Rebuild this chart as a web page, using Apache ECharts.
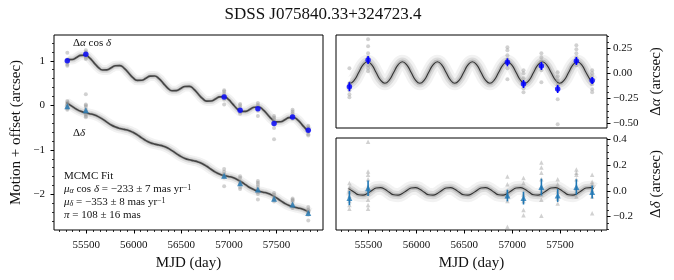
<!DOCTYPE html>
<html><head><meta charset="utf-8">
<script src="https://cdn.jsdelivr.net/npm/echarts@6/dist/echarts.min.js"></script>
<style>html,body{margin:0;padding:0;background:#fff}#c{width:674px;height:280px}</style>
</head><body><div id="c"></div>
<script>
// ---------------- data ----------------
const epochs = [55300, 55495, 56950, 57118, 57305, 57475, 57670, 57835];
const raMotion = [1.00, 1.15, 0.19, -0.11, -0.075, -0.41, -0.26, -0.56];
const decMotion = [-0.02, -0.11, -1.58, -1.75, -1.89, -2.10, -2.23, -2.42];
const raResid = [-0.134, 0.133, 0.11, -0.107, 0.073, -0.157, 0.123, -0.073];
const raErr = [0.045, 0.04, 0.04, 0.04, 0.04, 0.04, 0.04, 0.035];
const decResid = [-0.057, 0.02, -0.037, -0.057, 0.029, -0.037, 0.029, -0.01];
const decErr = [0.055, 0.06, 0.045, 0.05, 0.065, 0.05, 0.06, 0.05];

const raResidFrames = [
  [0.05, -0.10, -0.13, -0.17, -0.21, -0.24],
  [0.34, 0.27, 0.20, 0.16, 0.12, 0.08, 0.05, 0.02],
  [0.26, 0.23, 0.18, 0.14, 0.10, 0.05, -0.06],
  [0.03, 0.0, -0.05, -0.10, -0.15, -0.19],
  [0.20, 0.16, 0.12, 0.07, 0.03, -0.09],
  [0.01, -0.03, -0.07, -0.12, -0.17, -0.26, -0.51],
  [0.28, 0.24, 0.20, 0.16, 0.12, 0.08],
  [0.03, 0.0, -0.03, -0.07, -0.11, -0.16, -0.19]
];
const decResidFrames = [
  [0.06, 0.03, -0.01, -0.04, -0.08, -0.11, -0.14],
  [0.38, 0.15, 0.125, 0.09, 0.03, -0.02, -0.07, -0.11, -0.14],
  [0.11, 0.05, -0.005, -0.045, -0.08, -0.28],
  [0.10, 0.06, -0.03, -0.08, -0.15, -0.19],
  [0.22, 0.18, 0.14, 0.09, 0.03, -0.03, -0.07, -0.195],
  [0.09, 0.05, -0.005, -0.06, -0.10],
  [0.165, 0.14, 0.125, 0.09, 0.02, -0.045],
  [0.125, 0.07, 0.05, 0.01, -0.045, -0.175]
];
const raMotionFrames = [
  [1.18, 1.03, 1.00, 0.96, 0.92, 0.89],
  [1.24, 1.20, 1.17, 1.14, 1.10, 1.07, 1.04],
  [0.34, 0.31, 0.26, 0.22, 0.18, 0.13, 0.02],
  [0.03, 0.0, -0.05, -0.10, -0.15, -0.19],
  [0.05, 0.01, -0.03, -0.08, -0.12, -0.24],
  [-0.24, -0.28, -0.32, -0.37, -0.42, -0.51, -0.76],
  [-0.10, -0.14, -0.18, -0.22, -0.26, -0.30],
  [-0.46, -0.49, -0.52, -0.56, -0.60, -0.65, -0.68]
];
const decMotionFrames = [
  [0.10, 0.07, 0.03, 0.0, -0.04, -0.07, -0.10],
  [0.25, 0.02, -0.005, -0.04, -0.10, -0.15, -0.20, -0.24, -0.27],
  [-1.43, -1.49, -1.545, -1.585, -1.62, -1.82],
  [-1.59, -1.63, -1.72, -1.77, -1.84, -1.88],
  [-1.70, -1.74, -1.78, -1.83, -1.89, -1.95, -1.99, -2.115],
  [-1.97, -2.01, -2.065, -2.12, -2.16],
  [-2.095, -2.12, -2.135, -2.17, -2.24, -2.305],
  [-2.285, -2.34, -2.36, -2.40, -2.455, -2.585]
];

const fitT = [55290, 55305, 55351, 55397, 55442, 55488, 55534, 55579, 55625, 55671, 55716, 55762, 55808, 55853, 55899, 55945, 55990, 56036, 56082, 56127, 56173, 56219, 56264, 56310, 56356, 56401, 56447, 56493, 56538, 56584, 56630, 56675, 56721, 56767, 56812, 56858, 56904, 56949, 56995, 57041, 57086, 57132, 57178, 57223, 57269, 57315, 57360, 57406, 57452, 57497, 57543, 57589, 57634, 57680, 57726, 57771, 57817, 57850];
const fitRaResid = [-0.096,
  -0.100, -0.068, 0.008, 0.084, 0.116, 0.084, 0.008, -0.068,
  -0.100, -0.068, 0.008, 0.084, 0.116, 0.084, 0.008, -0.068,
  -0.100, -0.068, 0.008, 0.084, 0.116, 0.084, 0.008, -0.068,
  -0.100, -0.068, 0.008, 0.084, 0.116, 0.084, 0.008, -0.068,
  -0.100, -0.068, 0.008, 0.084, 0.116, 0.084, 0.008, -0.068,
  -0.100, -0.068, 0.008, 0.084, 0.116, 0.084, 0.008, -0.068,
  -0.100, -0.068, 0.008, 0.084, 0.116, 0.084, 0.008, -0.068,
  -0.098];
const fitDecResid = [0.017,
  0.011, -0.012, -0.031, -0.034, -0.021, 0.002, 0.021, 0.024,
  0.011, -0.012, -0.031, -0.034, -0.021, 0.002, 0.021, 0.024,
  0.011, -0.012, -0.031, -0.034, -0.021, 0.002, 0.021, 0.024,
  0.011, -0.012, -0.031, -0.034, -0.021, 0.002, 0.021, 0.024,
  0.011, -0.012, -0.031, -0.034, -0.021, 0.002, 0.021, 0.024,
  0.011, -0.012, -0.031, -0.034, -0.021, 0.002, 0.021, 0.024,
  0.011, -0.012, -0.031, -0.034, -0.021, 0.002, 0.021, 0.024,
  0.015];
const fitRaMotion = [1.040, 1.027, 1.029, 1.076, 1.123, 1.126, 1.065, 0.960, 0.855, 0.794, 0.796, 0.843, 0.890, 0.893, 0.832, 0.727, 0.622, 0.561, 0.563, 0.610, 0.657, 0.660, 0.599, 0.494, 0.389, 0.328, 0.330, 0.377, 0.424, 0.427, 0.366, 0.261, 0.156, 0.095, 0.097, 0.144, 0.191, 0.194, 0.133, 0.028, -0.077, -0.139, -0.136, -0.089, -0.042, -0.039, -0.100, -0.205, -0.311, -0.372, -0.369, -0.322, -0.275, -0.272, -0.333, -0.438, -0.544, -0.595];
const fitDecMotion = [0.064, 0.043, -0.024, -0.087, -0.135, -0.166, -0.187, -0.212, -0.253, -0.310, -0.377, -0.440, -0.487, -0.518, -0.540, -0.565, -0.606, -0.663, -0.730, -0.793, -0.840, -0.871, -0.892, -0.918, -0.959, -1.016, -1.083, -1.146, -1.193, -1.224, -1.245, -1.270, -1.311, -1.369, -1.436, -1.499, -1.546, -1.577, -1.598, -1.623, -1.664, -1.721, -1.788, -1.852, -1.899, -1.930, -1.951, -1.976, -2.017, -2.074, -2.141, -2.204, -2.251, -2.283, -2.304, -2.329, -2.370, -2.411];

const xTicks = [55500, 56000, 56500, 57000, 57500];
const yTicksMotion = [-2, -1, 0, 1];
const yTicksRa = [-0.5, -0.25, 0, 0.25];
const yTicksDec = [-0.2, 0, 0.2, 0.4];

const titleText = 'SDSS J075840.33+324723.4';

// ---------------- helpers ----------------
const FF = 'Liberation Serif';
function range(a, b, step) { const r = []; for (let v = a; v <= b + 1e-9; v += step) r.push(+v.toFixed(6)); return r; }
function fmt(d) { return v => (v < 0 ? '\u2212' : '') + Math.abs(v).toFixed(d); }
const X0 = 55160, X1 = 57990;
const xMinor = range(55500 - 500, 58000, 500 / 7).filter(v => v > X0 && v < X1);
const pairs = (xs, ys) => xs.map((x, i) => [x, ys[i]]);
const framePts = fr => { const o = []; fr.forEach((arr, i) => arr.forEach(v => o.push([epochs[i], v]))); return o; };

function mainX(grid, labels, name) {
  return {
    type: 'value', gridIndex: grid, min: X0, max: X1, position: 'bottom',
    axisLine: { show: false, onZero: false }, splitLine: { show: false },
    axisTick: { show: labels, customValues: xTicks, length: 3.5, lineStyle: { color: '#000', width: 1 } },
    axisLabel: { show: labels, customValues: xTicks, margin: 10, fontFamily: FF, fontSize: 11, color: '#111', formatter: v => String(v) },
    name: name || '', nameLocation: 'middle', nameGap: 26,
    nameTextStyle: { fontFamily: FF, fontSize: 15, color: '#111' }
  };
}
function minorX(grid) {
  return {
    type: 'value', gridIndex: grid, min: X0, max: X1, position: 'bottom',
    axisLine: { show: false, onZero: false }, splitLine: { show: false }, axisLabel: { show: false },
    axisTick: { show: true, customValues: xMinor, length: 2, lineStyle: { color: '#000', width: 0.8 } }
  };
}
function mainY(grid, min, max, ticks, d, pos, name, gap) {
  return {
    type: 'value', gridIndex: grid, min: min, max: max, position: pos,
    axisLine: { show: false, onZero: false }, splitLine: { show: false },
    axisTick: { show: true, customValues: ticks, length: 3.5, lineStyle: { color: '#000', width: 1 } },
    axisLabel: { customValues: ticks, margin: pos === 'left' ? 9 : 6, fontFamily: FF, fontSize: 11, color: '#111', formatter: fmt(d) },
    name: name, nameLocation: 'middle', nameGap: gap, nameRotate: 90,
    nameTextStyle: { fontFamily: FF, fontSize: 15, color: '#111',
      rich: { i: { fontFamily: FF, fontSize: 15, fontStyle: 'italic', color: '#111' } } }
  };
}
function minorY(grid, min, max, step, pos) {
  return {
    type: 'value', gridIndex: grid, min: min, max: max, position: pos,
    axisLine: { show: false, onZero: false }, splitLine: { show: false }, axisLabel: { show: false },
    axisTick: { show: true, customValues: range(Math.ceil(min / step) * step, max, step), length: 2, lineStyle: { color: '#000', width: 0.8 } }
  };
}
function fitLines(xi, yi, data, core, coreW, halo) {
  const base = { type: 'line', xAxisIndex: xi, yAxisIndex: yi, data: data, showSymbol: false, smooth: true, silent: true, z: 2 };
  return [
    Object.assign({}, base, { lineStyle: { color: 'rgba(0,0,0,0.05)', width: halo * 2 } }),
    Object.assign({}, base, { lineStyle: { color: 'rgba(0,0,0,0.09)', width: halo * 1.2 } }),
    Object.assign({}, base, { lineStyle: { color: 'rgba(0,0,0,0.14)', width: halo * 0.6 } }),
    Object.assign({}, base, { lineStyle: { color: core, width: coreW }, z: 3 })
  ];
}
function gray(xi, yi, data, sym) {
  return { type: 'scatter', xAxisIndex: xi, yAxisIndex: yi, data: data, symbol: sym, symbolSize: sym === 'triangle' ? 4.5 : 4,
    itemStyle: { color: 'rgba(150,150,150,0.55)' }, silent: true, z: 4 };
}
function blue(xi, yi, vals, sym, color) {
  return { type: 'scatter', xAxisIndex: xi, yAxisIndex: yi, data: pairs(epochs, vals), symbol: sym,
    symbolSize: sym === 'triangle' ? 6 : 5.5, itemStyle: { color: color }, silent: true, z: 6 };
}
function errBars(xi, yi, vals, errs, color) {
  return { type: 'custom', xAxisIndex: xi, yAxisIndex: yi, silent: true, z: 5,
    data: epochs.map((t, i) => [t, vals[i], errs[i]]),
    renderItem: (p, api) => {
      const x = api.value(0), y = api.value(1), e = api.value(2);
      const a = api.coord([x, y - e]), b = api.coord([x, y + e]);
      return { type: 'line', shape: { x1: a[0], y1: a[1], x2: b[0], y2: b[1] }, style: { stroke: color, lineWidth: 1.6 } };
    } };
}

const BLUE = '#0000ff', TAB = '#1f77b4';
const gridStyle = { show: true, borderColor: '#000', borderWidth: 1, backgroundColor: 'transparent' };

const rich = {
  i: { fontFamily: FF, fontSize: 11, fontStyle: 'italic', fill: '#111' },
  s: { fontFamily: FF, fontSize: 8, fontStyle: 'italic', fill: '#111', verticalAlign: 'bottom' },
  p: { fontFamily: FF, fontSize: 8, fill: '#111', verticalAlign: 'top' }
};
function txt(x, y, text, size, align) {
  return { type: 'text', x: x, y: y, silent: true,
    style: { text: text, fontFamily: FF, fontSize: size, fill: '#111', align: align || 'left', verticalAlign: 'middle', rich: rich } };
}

const chart = echarts.init(document.getElementById('c'), null, { renderer: 'canvas' });
chart.setOption({
  animation: false,
  backgroundColor: '#fff',
  grid: [
    Object.assign({ left: 54, top: 35, width: 269, height: 195 }, gridStyle),
    Object.assign({ left: 336, top: 35, width: 271, height: 93 }, gridStyle),
    Object.assign({ left: 336, top: 138, width: 271, height: 92 }, gridStyle)
  ],
  xAxis: [
    mainX(0, true, 'MJD (day)'), minorX(0),
    mainX(1, false, ''),
    mainX(2, true, 'MJD (day)'), minorX(2)
  ],
  yAxis: [
    mainY(0, -2.8, 1.58, yTicksMotion, 0, 'left', 'Motion + offset (arcsec)', 30), minorY(0, -2.8, 1.58, 0.2, 'left'),
    mainY(1, -0.547, 0.383, yTicksRa, 2, 'right', '\u0394{i|\u03b1} (arcsec)', 42), minorY(1, -0.547, 0.383, 0.0625, 'right'),
    mainY(2, -0.305, 0.41, yTicksDec, 1, 'right', '\u0394{i|\u03b4} (arcsec)', 42), minorY(2, -0.305, 0.41, 0.05, 'right')
  ],
  series: [].concat(
    fitLines(0, 0, pairs(fitT, fitRaMotion), '#444', 1.6, 5),
    fitLines(0, 0, pairs(fitT, fitDecMotion), '#444', 1.6, 5),
    [gray(0, 0, framePts(raMotionFrames), 'circle'), gray(0, 0, framePts(decMotionFrames), 'circle'),
     blue(0, 0, raMotion, 'circle', BLUE), blue(0, 0, decMotion, 'triangle', TAB)],
    fitLines(2, 2, pairs(fitT, fitRaResid), '#333', 1.1, 7),
    [gray(2, 2, framePts(raResidFrames), 'circle'), errBars(2, 2, raResid, raErr, BLUE), blue(2, 2, raResid, 'circle', BLUE)],
    fitLines(3, 4, pairs(fitT, fitDecResid), '#333', 1.1, 7),
    [gray(3, 4, framePts(decResidFrames), 'triangle'), errBars(3, 4, decResid, decErr, TAB), blue(3, 4, decResid, 'triangle', TAB)]
  ),
  graphic: [
    txt(323, 15, titleText, 17, 'center'),
    txt(73, 43, '\u0394{i|\u03b1} cos {i|\u03b4}', 11),
    txt(73, 133, '\u0394{i|\u03b4}', 11),
    txt(64, 176, 'MCMC Fit', 11),
    txt(64, 189, '{i|\u03bc}{s|\u03b1} cos {i|\u03b4} = \u2212233 \u00b1 7 mas yr{p|\u22121}', 11),
    txt(64, 202, '{i|\u03bc}{s|\u03b4} = \u2212353 \u00b1 8 mas yr{p|\u22121}', 11),
    txt(64, 215, '{i|\u03c0} = 108 \u00b1 16 mas', 11)
  ]
});
</script>
</body></html>
